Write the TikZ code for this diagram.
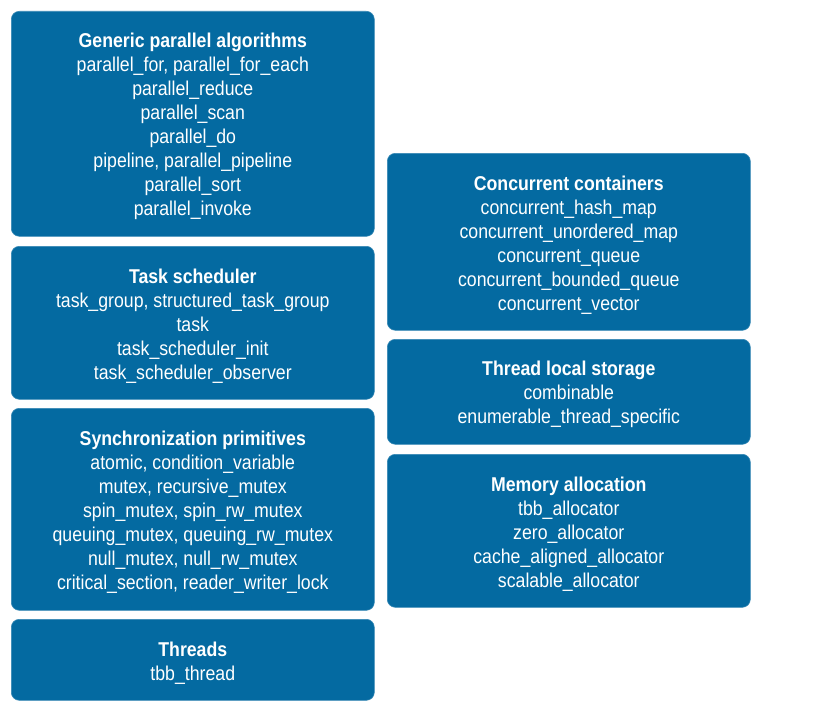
\documentclass[tikz,border=0pt]{standalone}
\usepackage{fontspec}
\setmainfont{Liberation Sans}
\newfontfamily\boxfont[FakeStretch=0.885]{Liberation Sans}
\definecolor{tbbblue}{RGB}{4,106,161}
\tikzset{
  tbbbox/.style={fill=tbbblue, draw=tbbblue!80!white, line width=0.6pt, rounded corners=8pt,
    anchor=north west, minimum width=363pt, inner sep=0pt},
  tbbtext/.style={text=white, align=center, inner sep=0pt, yshift=-3pt,
    font=\boxfont\fontsize{20}{24}\selectfont},
}
\newcommand{\ttl}[1]{\textbf{#1}}
\begin{document}
\begin{tikzpicture}[x=1pt,y=-1pt]
\useasboundingbox (0,0) rectangle (813,717);
\node[tbbbox, minimum height=225pt] (gpa) at (11,11) {};
\node[tbbtext] (gpat) at (gpa.center) {\ttl{Generic parallel algorithms}\\parallel\_for, parallel\_for\_each\\parallel\_reduce\\parallel\_scan\\parallel\_do\\pipeline, parallel\_pipeline\\parallel\_sort\\parallel\_invoke};
\node[tbbbox, minimum height=153pt] (ts) at (11,246) {};
\node[tbbtext] (tst) at (ts.center) {\ttl{Task scheduler}\\task\_group, structured\_task\_group\\task\\task\_scheduler\_init\\task\_scheduler\_observer};
\node[tbbbox, minimum height=202pt] (sp) at (11,408) {};
\node[tbbtext] (spt) at (sp.center) {\ttl{Synchronization primitives}\\atomic, condition\_variable\\mutex, recursive\_mutex\\spin\_mutex, spin\_rw\_mutex\\queuing\_mutex, queuing\_rw\_mutex\\null\_mutex, null\_rw\_mutex\\critical\_section, reader\_writer\_lock};
\node[tbbbox, minimum height=81pt] (th) at (11,619) {};
\node[tbbtext] (tht) at (th.center) {\ttl{Threads}\\tbb\_thread};
\node[tbbbox, minimum height=177pt] (cc) at (387,153) {};
\node[tbbtext] (cct) at (cc.center) {\ttl{Concurrent containers}\\concurrent\_hash\_map\\concurrent\_unordered\_map\\concurrent\_queue\\concurrent\_bounded\_queue\\concurrent\_vector};
\node[tbbbox, minimum height=105pt] (tls) at (387,339) {};
\node[tbbtext] (tlst) at (tls.center) {\ttl{Thread local storage}\\combinable\\enumerable\_thread\_specific};
\node[tbbbox, minimum height=153pt] (ma) at (387,454) {};
\node[tbbtext] (mat) at (ma.center) {\ttl{Memory allocation}\\tbb\_allocator\\zero\_allocator\\cache\_aligned\_allocator\\scalable\_allocator};
\end{tikzpicture}
\end{document}
